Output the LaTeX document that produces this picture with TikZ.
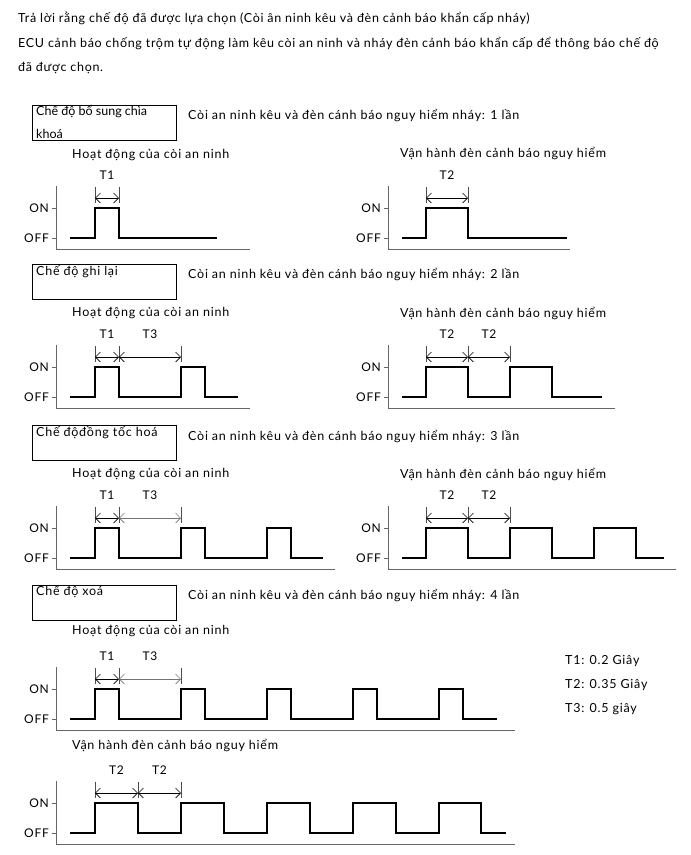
\documentclass[tikz,border=0pt]{standalone}
\usepackage{fontspec}
\setmainfont{Lato}
\newfontfamily\dfont[LetterSpace=6]{Lato}
\newfontfamily\hfont[LetterSpace=5.5]{Lato}
\usetikzlibrary{arrows.meta}
\newcommand\chartaxes[4]{% #1 x0, #2 ON y, #3 x end, #4 name
  \draw[axisline] (#1,#2-22) -- (#1,#2+41) -- (#3,#2+41);
  \draw[axisline] (#1-4,#2) -- (#1,#2) (#1-4,#2+30) -- (#1,#2+30);
  \node[lbl] (#4on) at (#1-7,#2) {ON};
  \node[lbl] (#4off) at (#1-7,#2+30) {OFF};
}
\newcommand\signal[4]{% #1 x start, #2 ON y, #3 pulses, #4 x end
  \draw[sig] (#1,#2+30) \foreach \r/\f in {#3} { -- (\r,#2+30) -- (\r,#2) -- (\f,#2) -- (\f,#2+30) } -- (#4,#2+30);
}
\newcommand\dimmark[6]{% #1 xa, #2 xb, #3 ON y, #4 label, #5 name, #6 colour
  \draw[guide] (#1,#3-21) -- (#1,#3-5) (#2,#3-21) -- (#2,#3-5);
  \draw[dim,draw=#6] (#1,#3-10) -- (#2,#3-10);
  \node[tl] (#5) at ({(#1+#2)/2},#3-33) {#4};
}
\begin{document}
\begin{tikzpicture}[x=1pt,y=-1pt,
  txt/.style={inner sep=0pt, anchor=west, font=\dfont\fontsize{12.5}{14}\selectfont},
  btxt/.style={inner sep=0pt, anchor=west, font=\fontsize{12.5}{14}\selectfont},
  htxt/.style={inner sep=0pt, anchor=west, font=\hfont\fontsize{12.5}{14}\selectfont},
  lbl/.style={inner sep=0pt, anchor=east, font=\dfont\fontsize{12}{14}\selectfont},
  tl/.style={inner sep=0pt, font=\dfont\fontsize{12}{14}\selectfont},
  axisline/.style={draw=black!60, line width=0.7pt},
  sig/.style={draw=black, line width=1.1pt},
  guide/.style={draw=black!70, line width=0.6pt},
  dim/.style={line width=0.6pt, {Straight Barb[length=5pt,width=10pt]}-{Straight Barb[length=5pt,width=10pt]}},
  modebox/.style={draw=black, line width=0.8pt, minimum width=144pt, minimum height=35pt, anchor=north west, inner sep=0pt}]
\useasboundingbox (0,0) rectangle (691,855);

% header
\node[htxt] (h1) at (18,18) {Trả lời rằng chế độ đã được lựa chọn (Còi ân ninh kêu và đèn cảnh báo khẩn cấp nháy)};
\node[htxt] (h2) at (18,44) {ECU cảnh báo chống trộm tự động làm kêu còi an ninh và nháy đèn cảnh báo khẩn cấp để thông báo chế độ};
\node[htxt] (h3) at (18,68) {đã được chọn.};

% ---------- section 1 ----------
\node[modebox] (b1) at (32,105) {};
\node[btxt] (b1a) at (36,112) {Chế độ bổ sung chìa};
\node[btxt] (b1b) at (36,134) {khoá};
\node[txt] (m1) at (188,116) {Còi an ninh kêu và đèn cánh báo nguy hiểm nháy: 1 lần};
\node[txt] (s1l) at (72,155) {Hoạt động của còi an ninh};
\node[txt] (s1r) at (400,154) {Vận hành đèn cảnh báo nguy hiểm};
\chartaxes{56}{208}{250}{a1}
\signal{70}{208}{95/119}{217}
\dimmark{95}{119}{208}{T1}{t1a}{black}
\chartaxes{388}{208}{570}{a2}
\signal{402}{208}{426/468}{567}
\dimmark{426}{468}{208}{T2}{t1b}{black}

% ---------- section 2 ----------
\node[modebox] (b2) at (32,264) {};
\node[txt] (b2a) at (36,272) {Chế độ ghi lại};
\node[txt] (m2) at (188,275) {Còi an ninh kêu và đèn cánh báo nguy hiểm nháy: 2 lần};
\node[txt] (s2l) at (72,313) {Hoạt động của còi an ninh};
\node[txt] (s2r) at (400,313) {Vận hành đèn cảnh báo nguy hiểm};
\chartaxes{56}{367}{250}{a3}
\signal{70}{367}{95/119,181/205}{238}
\dimmark{95}{119}{367}{T1}{t2a}{black}
\dimmark{119}{181}{367}{T3}{t2b}{black}
\chartaxes{388}{367}{615}{a4}
\signal{402}{367}{426/468,510/552}{602}
\dimmark{426}{468}{367}{T2}{t2c}{black}
\dimmark{468}{510}{367}{T2}{t2d}{black}

% ---------- section 3 ----------
\node[modebox] (b3) at (32,425) {};
\node[txt] (b3a) at (36,433) {Chế độđồng tốc hoá};
\node[txt] (m3) at (188,436) {Còi an ninh kêu và đèn cánh báo nguy hiểm nháy: 3 lần};
\node[txt] (s3l) at (72,474) {Hoạt động của còi an ninh};
\node[txt] (s3r) at (400,474) {Vận hành đèn cảnh báo nguy hiểm};
\chartaxes{56}{528}{335}{a5}
\signal{70}{528}{95/119,181/205,267/291}{323}
\dimmark{95}{119}{528}{T1}{t3a}{black}
\dimmark{119}{181}{528}{T3}{t3b}{black!55}
\chartaxes{388}{528}{676}{a6}
\signal{402}{528}{426/468,510/552,594/636}{664}
\dimmark{426}{468}{528}{T2}{t3c}{black}
\dimmark{468}{510}{528}{T2}{t3d}{black}

% ---------- section 4 ----------
\node[modebox] (b4) at (32,585) {};
\node[txt] (b4a) at (36,592) {Chế độ xoá};
\node[txt] (m4) at (188,595) {Còi an ninh kêu và đèn cánh báo nguy hiểm nháy: 4 lần};
\node[txt] (s4l) at (72,631) {Hoạt động của còi an ninh};
\chartaxes{56}{689}{515}{a7}
\signal{70}{689}{95/119,181/205,267/291,353/377,439/463}{497}
\dimmark{95}{119}{689}{T1}{t4a}{black}
\dimmark{119}{181}{689}{T3}{t4b}{black!55}
\node[txt] (s4r) at (72,745) {Vận hành đèn cảnh báo nguy hiểm};
\chartaxes{56}{803}{515}{a8}
\signal{70}{803}{95/138,181/224,267/310,353/396,439/481}{506}
\dimmark{95}{138}{803}{T2}{t4c}{black}
\dimmark{138}{181}{803}{T2}{t4d}{black}

% legend
\node[txt] (l1) at (565,661) {T1: 0.2 Giây};
\node[txt] (l2) at (565,685) {T2: 0.35 Giây};
\node[txt] (l3) at (565,709) {T3: 0.5 giây};
\end{tikzpicture}
\end{document}
